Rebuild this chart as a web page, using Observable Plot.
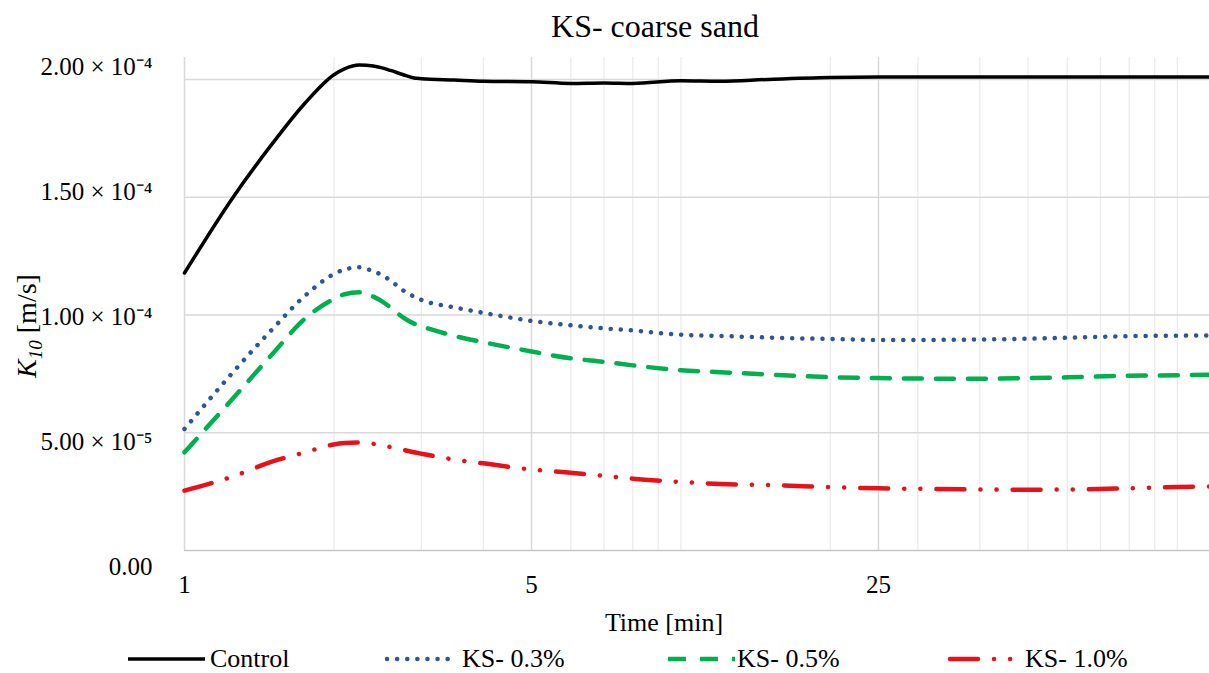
<!DOCTYPE html>
<html>
<head>
<meta charset="utf-8">
<script src="https://cdn.jsdelivr.net/npm/d3@7"></script>
<script src="https://cdn.jsdelivr.net/npm/@observablehq/plot@0.6"></script>
<style>
  html, body { margin: 0; padding: 0; background: #fff; overflow: hidden; }
  #wrap { position: relative; width: 1209px; height: 673px; overflow: hidden; font-family: "Liberation Serif", "Times New Roman", serif; color: #000; }
  #title { position: absolute; left: 0; top: 6px; width: 1310px; text-align: center; font-size: 32px; line-height: 40px; }
  #chart { position: absolute; left: 0; top: 48px; }
  #legend { position: absolute; left: 0; top: 638px; }
</style>
</head>
<body>
<div id="wrap">
  <div id="title">KS- coarse sand</div>
  <div id="chart"></div>
  <div id="legend"></div>
</div>
<script>
// Time [min]
const times = [1, 1.25, 1.5, 1.75, 2, 2.1, 2.25, 2.4, 2.5, 2.6, 2.75, 2.9, 3, 3.5, 4, 5, 6, 7, 8, 10, 12, 15, 20, 25, 30, 40, 50, 60, 80, 100, 120];
// K10 values in units of 1e-4 m/s
const control = [1.178, 1.497, 1.725, 1.900, 2.020, 2.045, 2.061, 2.057, 2.049, 2.038, 2.021, 2.006, 2.003, 1.997, 1.992, 1.990, 1.983, 1.985, 1.983, 1.994, 1.992, 2.000, 2.008, 2.010, 2.010, 2.010, 2.010, 2.010, 2.010, 2.010, 2.010];
const ks03 = [0.516, 0.755, 0.938, 1.082, 1.174, 1.193, 1.202, 1.185, 1.169, 1.146, 1.106, 1.078, 1.064, 1.032, 1.009, 0.975, 0.956, 0.943, 0.934, 0.916, 0.911, 0.904, 0.898, 0.894, 0.894, 0.896, 0.899, 0.903, 0.910, 0.912, 0.913];
const ks05 = [0.417, 0.644, 0.832, 0.985, 1.068, 1.088, 1.096, 1.078, 1.058, 1.032, 0.991, 0.963, 0.952, 0.911, 0.884, 0.845, 0.816, 0.801, 0.786, 0.765, 0.757, 0.747, 0.736, 0.732, 0.730, 0.729, 0.732, 0.735, 0.742, 0.744, 0.747];
const ks10 = [0.254, 0.314, 0.377, 0.417, 0.450, 0.456, 0.459, 0.453, 0.446, 0.439, 0.428, 0.417, 0.411, 0.386, 0.370, 0.344, 0.330, 0.317, 0.305, 0.291, 0.282, 0.278, 0.269, 0.264, 0.262, 0.259, 0.258, 0.259, 0.264, 0.270, 0.272];

const seriesNames = ["Control", "KS- 0.3%", "KS- 0.5%", "KS- 1.0%"];
const seriesValues = [control, ks03, ks05, ks10];

const xTickValues = [1, 5, 25];
const xTickLabels = ["1", "5", "25"];
const xMinorValues = [2, 3, 4, 6, 7, 8, 9, 10, 20, 30, 40, 50, 60, 70, 80, 90, 100];
const yTickValues = [0, 0.5, 1, 1.5, 2];
const yTickLabels = ["0.00", "5.00 × 10\u207B\u2075", "1.00 × 10\u207B\u2074", "1.50 × 10\u207B\u2074", "2.00 × 10\u207B\u2074"];

const styles = [
  {stroke: "#000000", strokeWidth: 3.5},
  {stroke: "#2F5597", strokeWidth: 4.5, strokeDasharray: "0.1 10", strokeLinecap: "round"},
  {stroke: "#00B050", strokeWidth: 4.5, strokeDasharray: "18 14"},
  {stroke: "#E8111A", strokeWidth: 4.5, strokeDasharray: "28 16 0.1 16 0.1 16", strokeLinecap: "round"}
];

const rows = seriesNames.map((name, si) => times.map((t, i) => ({series: name, t, k: seriesValues[si][i]})));

const yLabelMarks = yTickValues.map((v, i) =>
  Plot.text([v], {y: d => d, frameAnchor: "left", dx: -32, dy: 16 - 14 * v, textAnchor: "end",
    lineAnchor: "middle", text: () => yTickLabels[i], fontSize: 25, fill: "#000"}));

const plot = Plot.plot({
  width: 1209,
  height: 590,
  marginLeft: 184,
  marginRight: -16,
  marginTop: 9,
  marginBottom: 88,
  x: {type: "log", base: 5, domain: [1, 125], axis: null},
  y: {domain: [0, 2.093], axis: null},
  style: {fontFamily: "'Liberation Serif', 'Times New Roman', serif", background: "white", color: "#000"},
  marks: [
    Plot.gridX(xMinorValues, {stroke: "#ececec", strokeOpacity: 1, strokeWidth: 1.3}),
    Plot.gridX(xTickValues, {stroke: "#d9d9d9", strokeOpacity: 1, strokeWidth: 1.5}),
    Plot.gridY(yTickValues.filter(v => v > 0), {stroke: "#d9d9d9", strokeOpacity: 1, strokeWidth: 1.5}),
    Plot.ruleY([0], {stroke: "#c6c6c6", strokeWidth: 1.6}),
    ...rows.map((data, si) => Plot.line(data, {x: "t", y: "k", curve: "monotone-x", ...styles[si]})),
    Plot.text(xTickValues, {x: d => d, frameAnchor: "bottom", dy: 34, lineAnchor: "middle",
      text: (d, i) => xTickLabels[i], fontSize: 25, fill: "#000"}),
    ...yLabelMarks,
    Plot.text(["Time [min]"], {frameAnchor: "bottom", dx: -41, dy: 72, lineAnchor: "middle", fontSize: 26, fill: "#000"})
  ]
});
document.getElementById("chart").appendChild(plot);

// y-axis title with italic K and subscript 10
const svg = d3.select(plot);
const yt = svg.append("text")
  .attr("transform", "translate(36,278) rotate(-90)")
  .attr("text-anchor", "middle")
  .attr("font-size", 28)
  .attr("font-family", "'Liberation Serif', 'Times New Roman', serif")
  .attr("fill", "#000");
yt.append("tspan").attr("font-style", "italic").text("K");
yt.append("tspan").attr("font-style", "italic").attr("font-size", 19).attr("dy", 6).text("10");
yt.append("tspan").attr("dy", -6).text(" [m/s]");

// legend
const leg = d3.select("#legend").append("svg").attr("width", 1209).attr("height", 35)
  .style("font-family", "'Liberation Serif', 'Times New Roman', serif");
const legItems = [
  {x1: 128, x2: 205, tx: 210},
  {x1: 387, x2: 455, tx: 462},
  {x1: 668, x2: 735, tx: 737},
  {x1: 950, x2: 1015, tx: 1025}
];
legItems.forEach((it, i) => {
  const s = styles[i];
  leg.append("line").attr("x1", it.x1).attr("x2", it.x2).attr("y1", 21).attr("y2", 21)
    .attr("stroke", s.stroke).attr("stroke-width", s.strokeWidth)
    .attr("stroke-dasharray", s.strokeDasharray || null)
    .attr("stroke-linecap", s.strokeLinecap || "butt");
  leg.append("text").attr("x", it.tx).attr("y", 29).attr("font-size", 26).attr("fill", "#000").text(seriesNames[i]);
});
</script>
</body>
</html>
